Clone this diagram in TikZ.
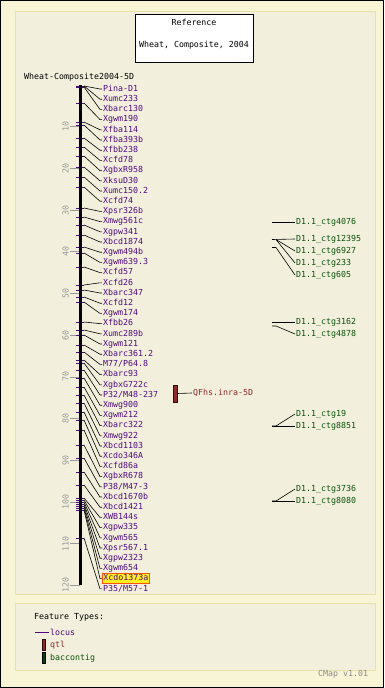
\documentclass[tikz,border=0pt]{standalone}
\usepackage{fontspec}
\newfontfamily\cmapfont{DejaVu Sans Mono}
\definecolor{outerbg}{HTML}{F8F5D6}
\definecolor{panelbg}{HTML}{F2F0DC}
\definecolor{panelline}{HTML}{E8E2A6}
\definecolor{locpurple}{HTML}{4E0A82}
\definecolor{ctggreen}{HTML}{0A520A}
\definecolor{qtlred}{HTML}{8E2A2A}
\definecolor{axgray}{HTML}{999999}
\definecolor{hlfill}{HTML}{FFEE22}
\definecolor{hlline}{HTML}{FF5500}
\tikzset{
  every node/.style={font=\cmapfont\fontsize{8.3}{10}\selectfont, inner sep=1pt},
  locuslbl/.style={anchor=west, text=locpurple, text height=6pt, text depth=1.5pt},
  ctglbl/.style={anchor=west, text=ctggreen},
  conn/.style={draw=black, line width=0.6pt},
  loctick/.style={draw=locpurple, line width=0.9pt},
  axlbl/.style={rotate=90, text=axgray},
  axtick/.style={draw=axgray, line width=0.8pt},
  panel/.style={fill=panelbg, draw=panelline, line width=1pt},
  hilite/.style={fill=hlfill, draw=hlline, line width=0.8pt}
}
\newcommand{\mylocus}[4][]{%
  \coordinate (a#2) at (84,#3);
  \draw[loctick] (a#2) -- ++(-8,0);
  \node[locuslbl,#1] (l#2) at (102,{89+(#2-1)*10.2}) {#4};
  \draw[conn] (a#2) -- ([xshift=-2pt]l#2.west) -- (l#2.west);
}
\begin{document}
\begin{tikzpicture}[x=1pt,y=-1pt]
\useasboundingbox (0,0) rectangle (384,688);
\fill[outerbg] (0,0) rectangle (384,688);
\draw[black, line width=1pt] (0.5,0.5) rectangle (383.5,687.5);
% panels
\draw[panel] (15,11) rectangle (375,594);
\draw[panel] (15,603) rectangle (375,670);
% reference box
\node[draw=black, fill=white, line width=0.8pt, minimum width=118pt, minimum height=48pt] (refbox) at (194,38) {};
\node (reftitle) at (194,22) {Reference};
\node (refname) at (194,45) {Wheat, Composite, 2004};
% map title
\node[anchor=west] (maptitle) at (23,77) {Wheat-Composite2004-5D};
% axis scale
\foreach \k in {1,...,12}{
  \coordinate (tk\k) at (80,{85+41.7*\k});
  \draw[axtick] (tk\k) -- ++(-10,0);
  \node[axlbl] (tl\k) at (65.5,{85+41.7*\k}) {\the\numexpr\k*10\relax};
}
% loci
\mylocus{1}{86}{Pina-D1}
\mylocus{2}{86}{Xumc233}
\mylocus{3}{87}{Xbarc130}
\mylocus{4}{103}{Xgwm190}
\mylocus{5}{122}{Xfba114}
\mylocus{6}{125}{Xfba393b}
\mylocus{7}{138}{Xfbb238}
\mylocus{8}{147}{Xcfd78}
\mylocus{9}{156}{XgbxR958}
\mylocus{10}{167}{XksuD30}
\mylocus{11}{177}{Xumc150.2}
\mylocus{12}{187}{Xcfd74}
\mylocus{13}{208}{Xpsr326b}
\mylocus{14}{217}{Xmwg561c}
\mylocus{15}{225}{Xgpw341}
\mylocus{16}{235}{Xbcd1874}
\mylocus{17}{247}{Xgwm494b}
\mylocus{18}{253}{Xgwm639.3}
\mylocus{19}{267}{Xcfd57}
\mylocus{20}{285}{Xcfd26}
\mylocus{21}{290}{Xbarc347}
\mylocus{22}{297}{Xcfd12}
\mylocus{23}{302}{Xgwm174}
\mylocus{24}{322}{Xfbb26}
\mylocus{25}{330}{Xumc289b}
\mylocus{26}{335}{Xgwm121}
\mylocus{27}{345}{Xbarc361.2}
\mylocus{28}{352}{M77/P64.8}
\mylocus{29}{360}{Xbarc93}
\mylocus{30}{363}{XgbxG722c}
\mylocus{31}{370}{P32/M48-237}
\mylocus{32}{378}{Xmwg900}
\mylocus{33}{387}{Xgwm212}
\mylocus{34}{395}{Xbarc322}
\mylocus{35}{403}{Xmwg922}
\mylocus{36}{412}{Xbcd1103}
\mylocus{37}{420}{Xcdo346A}
\mylocus{38}{430}{Xcfd86a}
\mylocus{39}{445}{XgbxR678}
\mylocus{40}{458}{P38/M47-3}
\mylocus{41}{472}{Xbcd1670b}
\mylocus{42}{485}{Xbcd1421}
\mylocus{43}{498}{XWB144s}
\mylocus{44}{500}{Xgpw335}
\mylocus{45}{502}{Xgwm565}
\mylocus{46}{504}{Xpsr567.1}
\mylocus{47}{506}{Xgpw2323}
\mylocus{48}{508}{Xgwm654}
\mylocus[hilite]{49}{510}{Xcdo1373a}
\mylocus{50}{538}{P35/M57-1}
% axis
\coordinate (axtop) at (80,85);
\coordinate (axbot) at (80,585.4);
\draw[black, line width=3pt] (axtop) -- (axbot);
% QTL
\node[fill=qtlred, draw=black!70!qtlred, line width=0.6pt, minimum width=4pt, minimum height=17pt, inner sep=0pt] (qbar) at (175,393.5) {};
\node[anchor=west, text=qtlred] (qlbl) at (192,393) {QFhs.inra-5D};
\draw[conn] (qbar.east) -- (qlbl.west);
% bac contigs
\node[ctglbl] (c1) at (295,222) {D1.1\_ctg4076};
\node[ctglbl] (c2) at (295,239) {D1.1\_ctg12395};
\node[ctglbl] (c3) at (295,251) {D1.1\_ctg6927};
\node[ctglbl] (c4) at (295,263) {D1.1\_ctg233};
\node[ctglbl] (c5) at (295,275) {D1.1\_ctg605};
\node[ctglbl] (c6) at (295,322) {D1.1\_ctg3162};
\node[ctglbl] (c7) at (295,334) {D1.1\_ctg4878};
\node[ctglbl] (c8) at (295,414) {D1.1\_ctg19};
\node[ctglbl] (c9) at (295,426) {D1.1\_ctg8851};
\node[ctglbl] (c10) at (295,489) {D1.1\_ctg3736};
\node[ctglbl] (c11) at (295,501) {D1.1\_ctg8080};
\coordinate (p1) at (272,222);
\coordinate (p2) at (272,239.5);
\coordinate (p3) at (272,247.5);
\coordinate (p6) at (272,322);
\coordinate (p7) at (272,326);
\coordinate (p9) at (272,426);
\coordinate (p11) at (272,501);
\draw[conn] (p1) -- (c1.west);
\draw[conn] (p2) -- (c2.west);
\draw[conn] (p2) ++(4,0) -- (c3.west);
\draw[conn] (p2) ++(4,0) -- (c4.west);
\draw[conn] (p3) -- ++(4,0) -- (c5.west);
\draw[conn] (p6) -- (c6.west);
\draw[conn] (p7) -- ++(4,0) -- (c7.west);
\draw[conn] (p9) -- ++(4,0) -- (c8.west);
\draw[conn] (p9) -- (c9.west);
\draw[conn] (p11) -- ++(4,0) -- (c10.west);
\draw[conn] (p11) -- (c11.west);
% legend
\node[anchor=west] (ftitle) at (33,617) {Feature Types:};
\coordinate (lg1) at (35,632);
\node[anchor=west, text=locpurple] (lglocus) at (49,632) {locus};
\draw[draw=locpurple, line width=0.8pt] (lg1) -- (lglocus.west);
\node[fill=qtlred, draw=black!70!qtlred, line width=0.6pt, minimum width=3.5pt, minimum height=11pt, inner sep=0pt] (lgqbar) at (44,645) {};
\node[anchor=west, text=qtlred] (lgqtl) at (49,645) {qtl};
\node[fill=ctggreen!80!black, draw=black, line width=0.6pt, minimum width=3.5pt, minimum height=11pt, inner sep=0pt] (lgcbar) at (44,658) {};
\node[anchor=west, text=ctggreen] (lgctg) at (49,658) {baccontig};
\node[anchor=west, text=axgray!90!black] (cmapver) at (317,674) {CMap v1.01};
\end{tikzpicture}
\end{document}
